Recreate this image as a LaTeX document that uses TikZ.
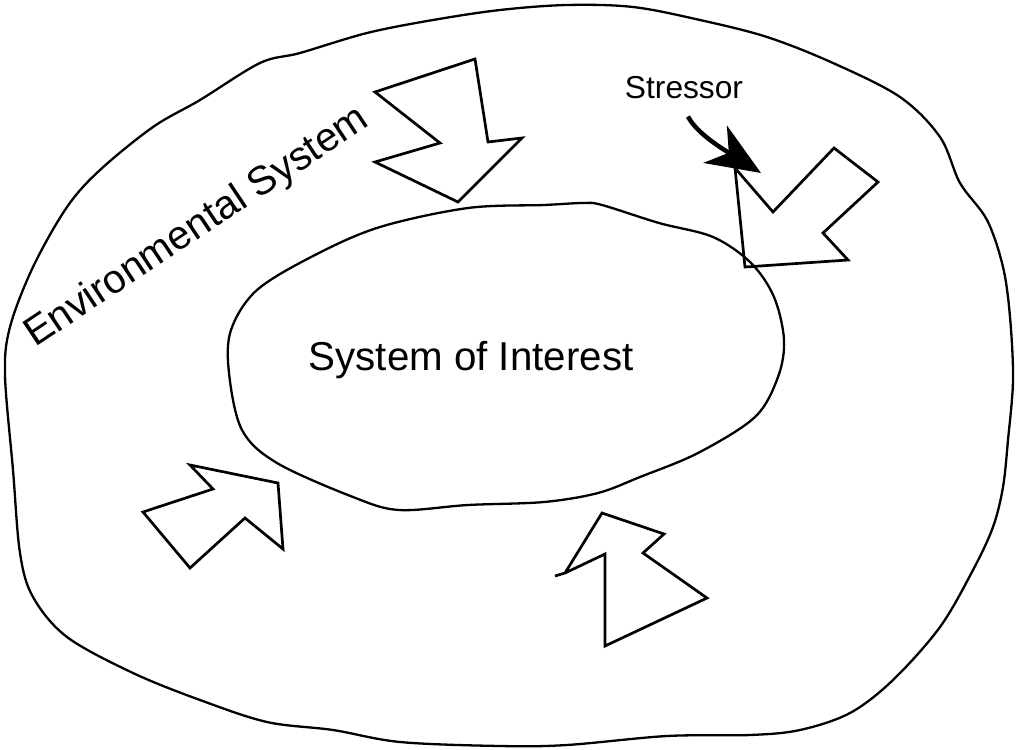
\documentclass[tikz,border=0pt]{standalone}
\usepackage{fontspec}
\setmainfont{Liberation Sans}
\usetikzlibrary{arrows.meta}
\begin{document}
\begin{tikzpicture}[x=1pt,y=-1pt,
  blob/.style={line width=2.3pt, line join=round},
  bigarrow/.style={line width=2.7pt, line join=miter, miter limit=6},
  bigtext/.style={font=\fontsize{40.3}{48}\selectfont, inner sep=0pt},
  smalltext/.style={font=\fontsize{31.7}{38}\selectfont, inner sep=0pt},
  stressline/.style={line width=4.5pt, -{Stealth[length=54pt,width=44pt,inset=16pt]}}
]
\useasboundingbox (0,0) rectangle (1018,750);

% outer environmental system
\draw[blob] plot[smooth cycle, tension=0.55] coordinates {
 (5,375) (10,327) (33,267) (67,207) (100,170) (153,127) (200,100) (260,63)
 (300,53) (367,33) (433,20) (500,10) (567,5) (633,7) (700,20) (767,37)
 (833,63) (900,97) (940,137) (960,183) (987,220) (1003,267) (1010,317)
 (1013,380) (1008,440) (1003,487) (993,527) (973,570) (940,627) (893,680)
 (850,713) (800,730) (750,735) (667,736) (567,745) (500,746) (400,742)
 (333,730) (267,722) (200,700) (133,673) (67,637) (33,597) (20,553) (13,470)};

% inner system of interest
\draw[blob] plot[smooth cycle, tension=0.55] coordinates {
 (315,255) (380,227) (468,208) (544,205) (583,203) (602,205) (659,223)
 (713,237) (751,263) (774,297) (784,340) (778,377) (755,417) (698,453)
 (640,477) (598,493) (544,502) (468,505) (399,510) (353,497) (277,463)
 (242,430) (229,373) (231,330) (257,290)};

% block arrows
\draw[bigarrow] (375,92) -- (475,59) -- (488,142) -- (522,138) -- (458,202)
  -- (375,162) -- (440,143) -- cycle;
\draw[bigarrow] (834,148) -- (878,182) -- (823,233) -- (848,260) -- (745,267)
  -- (735,168) -- (773,212) -- cycle;
\draw[bigarrow] (190,465) -- (278,483) -- (283,549) -- (245,518) -- (190,568)
  -- (143,512) -- (213,489) -- cycle;
\draw[bigarrow] (555,576) -- (565,573) -- (605,554) -- (605,646) -- (707,598)
  -- (643,553) -- (664,534) -- (602,513) -- (565,573);

% labels
\node[bigtext, anchor=base] (soi) at (471,370) {System of Interest};
\node[bigtext, anchor=base west, rotate=33.6] (env) at (35,348) {Environmental System};
\node[smalltext, anchor=base] (stressor) at (684,98) {Stressor};

% stressor arrow
\coordinate (stresstip) at (761,173);
\draw[stressline] ([xshift=4pt,yshift=-18pt]stressor.south)
  .. controls (696,132) and (718,146) .. (stresstip);
\end{tikzpicture}
\end{document}
